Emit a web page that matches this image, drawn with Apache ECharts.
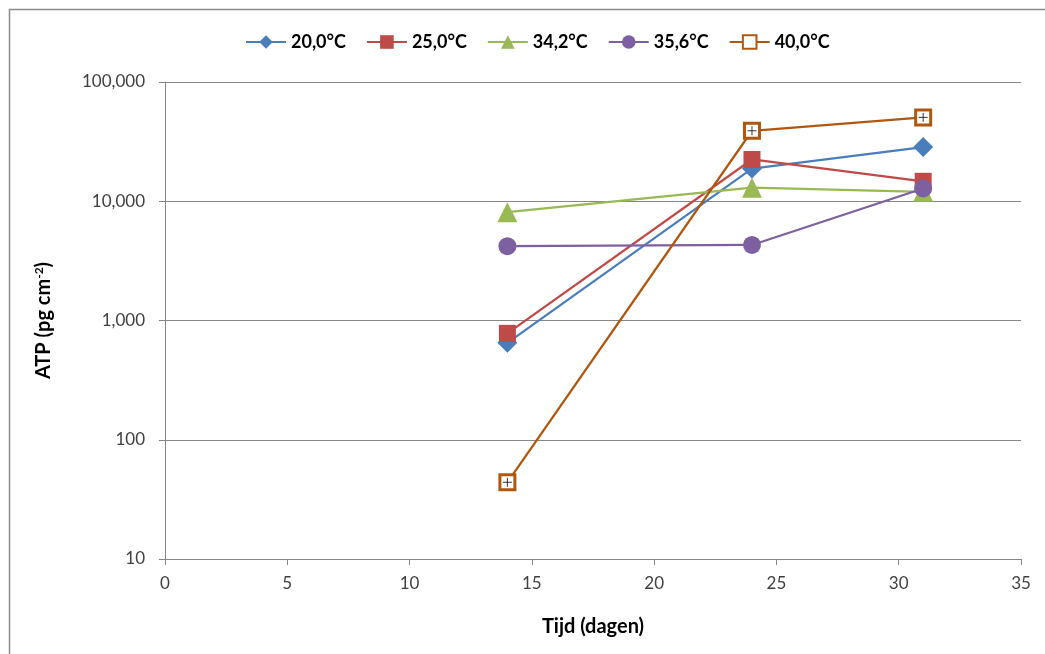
<!DOCTYPE html>
<html>
<head>
<meta charset="utf-8">
<title>ATP per temperatuur</title>
<script src="https://cdn.jsdelivr.net/npm/echarts@6/dist/echarts.min.js"></script>
<style>
  html, body { margin: 0; padding: 0; background: #ffffff; }
  #chart { width: 1045px; height: 654px; }
</style>
</head>
<body>
<div id="chart"></div>
<script>
// Meetdagen en ATP-waarden (pg cm-2) per incubatietemperatuur
const days = [14, 24, 31];
const seriesNames = ['20,0°C', '25,0°C', '34,2°C', '35,6°C', '40,0°C'];
const atp20 = [650, 18800, 28500];
const atp25 = [780, 22400, 14700];
const atp342 = [8100, 13000, 12000];
const atp356 = [4200, 4300, 12800];
const atp40 = [44, 39000, 50500];
const yTicks = [10, 100, 1000, 10000, 100000];

const colors = ['#4A7EBB', '#BE4B48', '#98B954', '#7D60A0', '#B0570F'];
const font = 'Lato, "Open Sans", sans-serif';

const pairs = vals => days.map((d, i) => [d, vals[i]]);

const chart = echarts.init(document.getElementById('chart'), null, { renderer: 'canvas' });

const lineW = 2.25;
function mkSeries(name, vals, color, symbol, size, extra) {
  return Object.assign({
    name: name,
    type: 'line',
    data: pairs(vals),
    symbol: symbol,
    symbolSize: size,
    showAllSymbol: true,
    lineStyle: { color: color, width: lineW },
    itemStyle: { color: color },
    emphasis: { disabled: true },
    z: 3
  }, extra || {});
}

chart.setOption({
  animation: false,
  backgroundColor: '#ffffff',
  textStyle: { fontFamily: font },
  graphic: [
    { type: 'line', shape: { x1: 9, y1: 9.5, x2: 1045, y2: 9.5 }, style: { stroke: '#8a8a8a', lineWidth: 1.5 }, silent: true },
    { type: 'line', shape: { x1: 9.5, y1: 9, x2: 9.5, y2: 654 }, style: { stroke: '#8a8a8a', lineWidth: 1.5 }, silent: true }
  ],
  legend: {
    data: seriesNames,
    top: 28,
    left: 240,
    itemWidth: 40,
    itemHeight: 17,
    itemGap: 20,
    textStyle: { fontFamily: font, fontSize: 18, fontWeight: 'bold', color: '#000000' }
  },
  grid: { left: 165, right: 24, top: 82, bottom: 95, containLabel: false },
  xAxis: {
    type: 'value',
    min: 0,
    max: 35,
    interval: 5,
    name: 'Tijd (dagen)',
    nameLocation: 'middle',
    nameGap: 58,
    nameTextStyle: { fontFamily: font, fontSize: 20, fontWeight: 'bold', color: '#000000' },
    axisLine: { show: true, lineStyle: { color: '#868686', width: 1 } },
    axisTick: { show: true, length: 6, lineStyle: { color: '#868686' } },
    axisLabel: { fontFamily: font, fontSize: 17, color: '#404040', margin: 16 },
    splitLine: { show: false }
  },
  yAxis: {
    type: 'log',
    logBase: 10,
    min: yTicks[0],
    max: yTicks[yTicks.length - 1],
    name: '{a|ATP (pg cm}{s|-2}{a|)}',
    nameLocation: 'middle',
    nameRotate: 90,
    nameGap: 110,
    nameTextStyle: {
      rich: {
        a: { fontFamily: font, fontSize: 20, fontWeight: 'bold', color: '#000000' },
        s: { fontFamily: font, fontSize: 12, fontWeight: 'bold', color: '#000000', padding: [0, 0, 10, 0] }
      }
    },
    axisLine: { show: true, lineStyle: { color: '#868686', width: 1 } },
    axisTick: { show: true, inside: false, length: 6, lineStyle: { color: '#868686' } },
    axisLabel: {
      fontFamily: font, fontSize: 17, color: '#404040', margin: 20,
      formatter: v => Math.round(v).toLocaleString('en-US')
    },
    splitLine: { show: true, lineStyle: { color: '#868686', width: 1 } }
  },
  series: [
    mkSeries(seriesNames[0], atp20, colors[0], 'diamond', 20),
    mkSeries(seriesNames[1], atp25, colors[1], 'rect', 17),
    mkSeries(seriesNames[2], atp342, colors[2], 'triangle', 20),
    mkSeries(seriesNames[3], atp356, colors[3], 'circle', 18),
    mkSeries(seriesNames[4], atp40, colors[4], 'rect', 15, {
      itemStyle: { color: '#ffffff', borderColor: colors[4], borderWidth: 3 }
    }),
    // dun plusteken in de open vierkantjes van 40,0°C
    {
      name: '40,0°C +',
      type: 'line',
      data: pairs(atp40),
      symbol: 'path://M0,5H10M5,0V10',
      symbolSize: 9,
      lineStyle: { width: 0, opacity: 0 },
      itemStyle: { color: 'none', borderColor: '#333333', borderWidth: 1 },
      silent: true,
      emphasis: { disabled: true },
      z: 4
    }
  ]
});
</script>
</body>
</html>
